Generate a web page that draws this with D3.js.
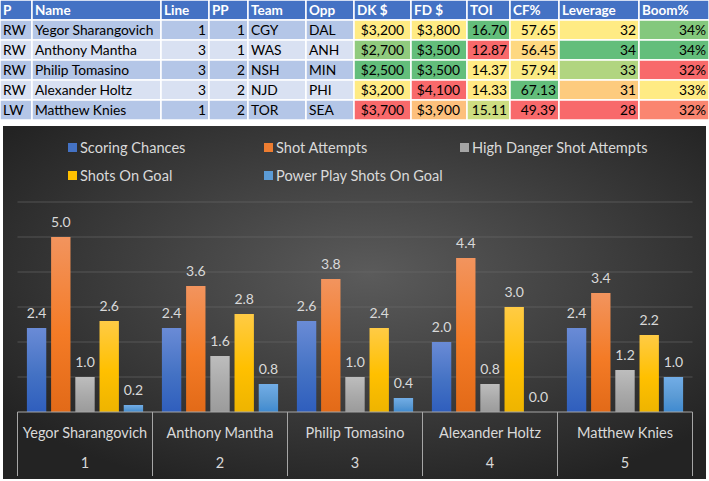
<!DOCTYPE html>
<html>
<head>
<meta charset="utf-8">
<script src="https://cdn.jsdelivr.net/npm/d3@7"></script>
<style>
  html, body { margin: 0; padding: 0; background: #fff; }
  svg { display: block; font-family: Lato, "Open Sans", sans-serif; }
</style>
</head>
<body>
<svg id="chart" width="709" height="481"></svg>
<script>
// table data
const headers = ["P", "Name", "Line", "PP", "Team", "Opp", "DK $", "FD $", "TOI", "CF%", "Leverage", "Boom%"];
const positions = ["RW", "RW", "RW", "RW", "LW"];
const players = ["Yegor Sharangovich", "Anthony Mantha", "Philip Tomasino", "Alexander Holtz", "Matthew Knies"];
const lines = [1, 3, 3, 3, 1];
const ppUnits = [1, 1, 2, 2, 2];
const teams = ["CGY", "WAS", "NSH", "NJD", "TOR"];
const opps = ["DAL", "ANH", "MIN", "PHI", "SEA"];
const dkSalary = [3200, 2700, 2500, 3200, 3700];
const fdSalary = [3800, 3500, 3500, 4100, 3900];
const toi = [16.70, 12.87, 14.37, 14.33, 15.11];
const cfPct = [57.65, 56.45, 57.94, 67.13, 49.39];
const leverage = [32, 34, 33, 31, 28];
const boomPct = [34.1, 34.4, 31.6, 33.0, 31.9];

// chart data
const seriesNames = ["Scoring Chances", "Shot Attempts", "High Danger Shot Attempts", "Shots On Goal", "Power Play Shots On Goal"];
const scoringChances = [2.4, 2.4, 2.6, 2.0, 2.4];
const shotAttempts = [5.0, 3.6, 3.8, 4.4, 3.4];
const highDanger = [1.0, 1.6, 1.0, 0.8, 1.2];
const shotsOnGoal = [2.6, 2.8, 2.4, 3.0, 2.2];
const ppShotsOnGoal = [0.2, 0.8, 0.4, 0.0, 1.0];
const ranks = ["1", "2", "3", "4", "5"];

const svg = d3.select("#chart");

// ---------- table ----------
const colEdges = [0, 32, 161, 209, 248, 306, 354, 411, 467, 510, 559, 639, 709];
const rowTop = 0, headH = 20, rowH = 20;
const green = "#63BE7B", yellow = "#FFEB84", red = "#F8696B";

// 3 colour scale, min / median / max like excel
function colorScale(vals, lowIsGood) {
  const s = vals.slice().sort(d3.ascending);
  const dom = [s[0], d3.median(s), s[s.length - 1]];
  const rng = lowIsGood ? [green, yellow, red] : [red, yellow, green];
  return d3.scaleLinear().domain(dom).range(rng).interpolate(d3.interpolateRgb);
}

const fmtMoney = d => "$" + d3.format(",")(d);
const columns = [
  { vals: positions, align: "start" },
  { vals: players, align: "start" },
  { vals: lines, align: "end" },
  { vals: ppUnits, align: "end" },
  { vals: teams, align: "start" },
  { vals: opps, align: "start" },
  { vals: dkSalary, align: "end", fmt: fmtMoney, color: colorScale(dkSalary, true), pad: 7 },
  { vals: fdSalary, align: "end", fmt: fmtMoney, color: colorScale(fdSalary, true), pad: 7 },
  { vals: toi, align: "end", fmt: d3.format(".2f"), color: colorScale(toi, false) },
  { vals: cfPct, align: "end", fmt: d3.format(".2f"), color: colorScale(cfPct, false) },
  { vals: leverage, align: "end", color: colorScale(leverage, false) },
  { vals: boomPct, align: "end", fmt: d => Math.round(d) + "%", color: colorScale(boomPct, false) }
];

const table = svg.append("g").attr("class", "table");

// header
headers.forEach((h, i) => {
  table.append("rect")
    .attr("x", colEdges[i]).attr("y", rowTop)
    .attr("width", colEdges[i + 1] - colEdges[i]).attr("height", headH)
    .attr("fill", "#4472C4").attr("stroke", "#fff").attr("stroke-width", 1.5);
  table.append("text")
    .attr("x", colEdges[i] + 3).attr("y", rowTop + headH / 2 + 5)
    .attr("fill", "#fff").attr("font-weight", "bold").attr("font-size", 13.5)
    .text(h);
});

// body rows
players.forEach((p, r) => {
  const y0 = rowTop + headH + r * rowH;
  columns.forEach((c, i) => {
    const v = c.vals[r];
    const bg = c.color ? c.color(v) : (r % 2 === 0 ? "#B4C6E7" : "#D9E1F2");
    table.append("rect")
      .attr("x", colEdges[i]).attr("y", y0)
      .attr("width", colEdges[i + 1] - colEdges[i]).attr("height", rowH)
      .attr("fill", bg).attr("stroke", "#fff").attr("stroke-width", 1.5);
    const pad = c.pad || 3;
    table.append("text")
      .attr("x", c.align === "end" ? colEdges[i + 1] - pad : colEdges[i] + pad)
      .attr("y", y0 + rowH / 2 + 5)
      .attr("text-anchor", c.align)
      .attr("fill", "#000").attr("font-size", 13.8)
      .text(c.fmt ? c.fmt(v) : v);
  });
});

// ---------- chart ----------
const defs = svg.append("defs");
const bgGrad = defs.append("radialGradient").attr("id", "bg")
  .attr("cx", "52%").attr("cy", "42%").attr("r", "65%");
bgGrad.append("stop").attr("offset", "0%").attr("stop-color", "#5b5b5b");
bgGrad.append("stop").attr("offset", "100%").attr("stop-color", "#232323");

svg.append("rect")
  .attr("x", 3).attr("y", 126).attr("width", 703).attr("height", 353)
  .attr("fill", "url(#bg)");

// bar colours: top, mid, bottom
const barCols = [
  ["#6a8bd6", "#4472C4", "#2f5ebd"],
  ["#f2945e", "#f47b26", "#e26a18"],
  ["#bdbdbd", "#a9a9a9", "#9b9b9b"],
  ["#ffcb45", "#ffc000", "#eeb400"],
  ["#72ade6", "#5b9bd5", "#3f8ad0"]
];
const legendCols = ["#4472C4", "#ED7D31", "#A5A5A5", "#FFC000", "#5B9BD5"];
barCols.forEach((c, i) => {
  const g = defs.append("linearGradient").attr("id", "bar" + i)
    .attr("x1", 0).attr("x2", 0).attr("y1", 0).attr("y2", 1);
  g.append("stop").attr("offset", "0%").attr("stop-color", c[0]);
  g.append("stop").attr("offset", "55%").attr("stop-color", c[1]);
  g.append("stop").attr("offset", "100%").attr("stop-color", c[2]);
});

const allSeries = [scoringChances, shotAttempts, highDanger, shotsOnGoal, ppShotsOnGoal];

const y = d3.scaleLinear().domain([0, 6]).range([412, 202]);
const x0 = d3.scaleBand().domain(players).range([17.5, 692.5]).padding(0);
const x1 = d3.scaleBand().domain(d3.range(seriesNames.length))
  .range([9.4, x0.bandwidth() - 9.4]).paddingInner(0.2);

// gridlines
svg.append("g")
  .selectAll("line")
  .data(y.ticks(6).filter(d => d > 0))
  .join("line")
  .attr("x1", x0.range()[0]).attr("x2", x0.range()[1])
  .attr("y1", d => y(d)).attr("y2", d => y(d))
  .attr("stroke", "#6a6a6a").attr("stroke-opacity", 0.6).attr("stroke-width", 1);

// legend
const legendPos = [[68, 148], [264, 148], [460, 148], [68, 176], [264, 176]];
const legend = svg.append("g");
seriesNames.forEach((s, i) => {
  const [lx, ly] = legendPos[i];
  legend.append("rect")
    .attr("x", lx).attr("y", ly - 5).attr("width", 9).attr("height", 9)
    .attr("fill", legendCols[i]);
  legend.append("text")
    .attr("x", lx + 12).attr("y", ly + 4.5)
    .attr("fill", "#d9d9d9").attr("font-size", 14.6)
    .text(s);
});

// bars
const groups = svg.append("g").selectAll("g")
  .data(players)
  .join("g")
  .attr("transform", d => `translate(${x0(d)},0)`);

groups.each(function (p, pi) {
  const g = d3.select(this);
  allSeries.forEach((ser, si) => {
    const v = ser[pi];
    g.append("rect")
      .attr("x", x1(si)).attr("width", x1.bandwidth())
      .attr("y", y(v)).attr("height", y(0) - y(v))
      .attr("fill", `url(#bar${si})`);
    g.append("text")
      .attr("x", x1(si) + x1.bandwidth() / 2)
      .attr("y", y(v) - 10)
      .attr("text-anchor", "middle")
      .attr("fill", "#d9d9d9").attr("font-size", 14)
      .text(d3.format(".1f")(v));
  });
});

// multi-level category axis
const axis = svg.append("g").attr("stroke", "#a6a6a6").attr("stroke-width", 1);
axis.append("line")
  .attr("x1", x0.range()[0]).attr("x2", x0.range()[1])
  .attr("y1", y(0)).attr("y2", y(0));
axis.selectAll("line.div")
  .data(players.map(p => x0(p)).concat([x0.range()[1]]))
  .join("line").attr("class", "div")
  .attr("x1", d => d).attr("x2", d => d)
  .attr("y1", y(0)).attr("y2", 476);

svg.append("g").selectAll("text")
  .data(players)
  .join("text")
  .attr("x", d => x0(d) + x0.bandwidth() / 2)
  .attr("y", 438)
  .attr("text-anchor", "middle")
  .attr("fill", "#d9d9d9").attr("font-size", 14.5)
  .text(d => d);

svg.append("g").selectAll("text")
  .data(players)
  .join("text")
  .attr("x", d => x0(d) + x0.bandwidth() / 2)
  .attr("y", 468)
  .attr("text-anchor", "middle")
  .attr("fill", "#d9d9d9").attr("font-size", 14.5)
  .text((d, i) => ranks[i]);
</script>
</body>
</html>
